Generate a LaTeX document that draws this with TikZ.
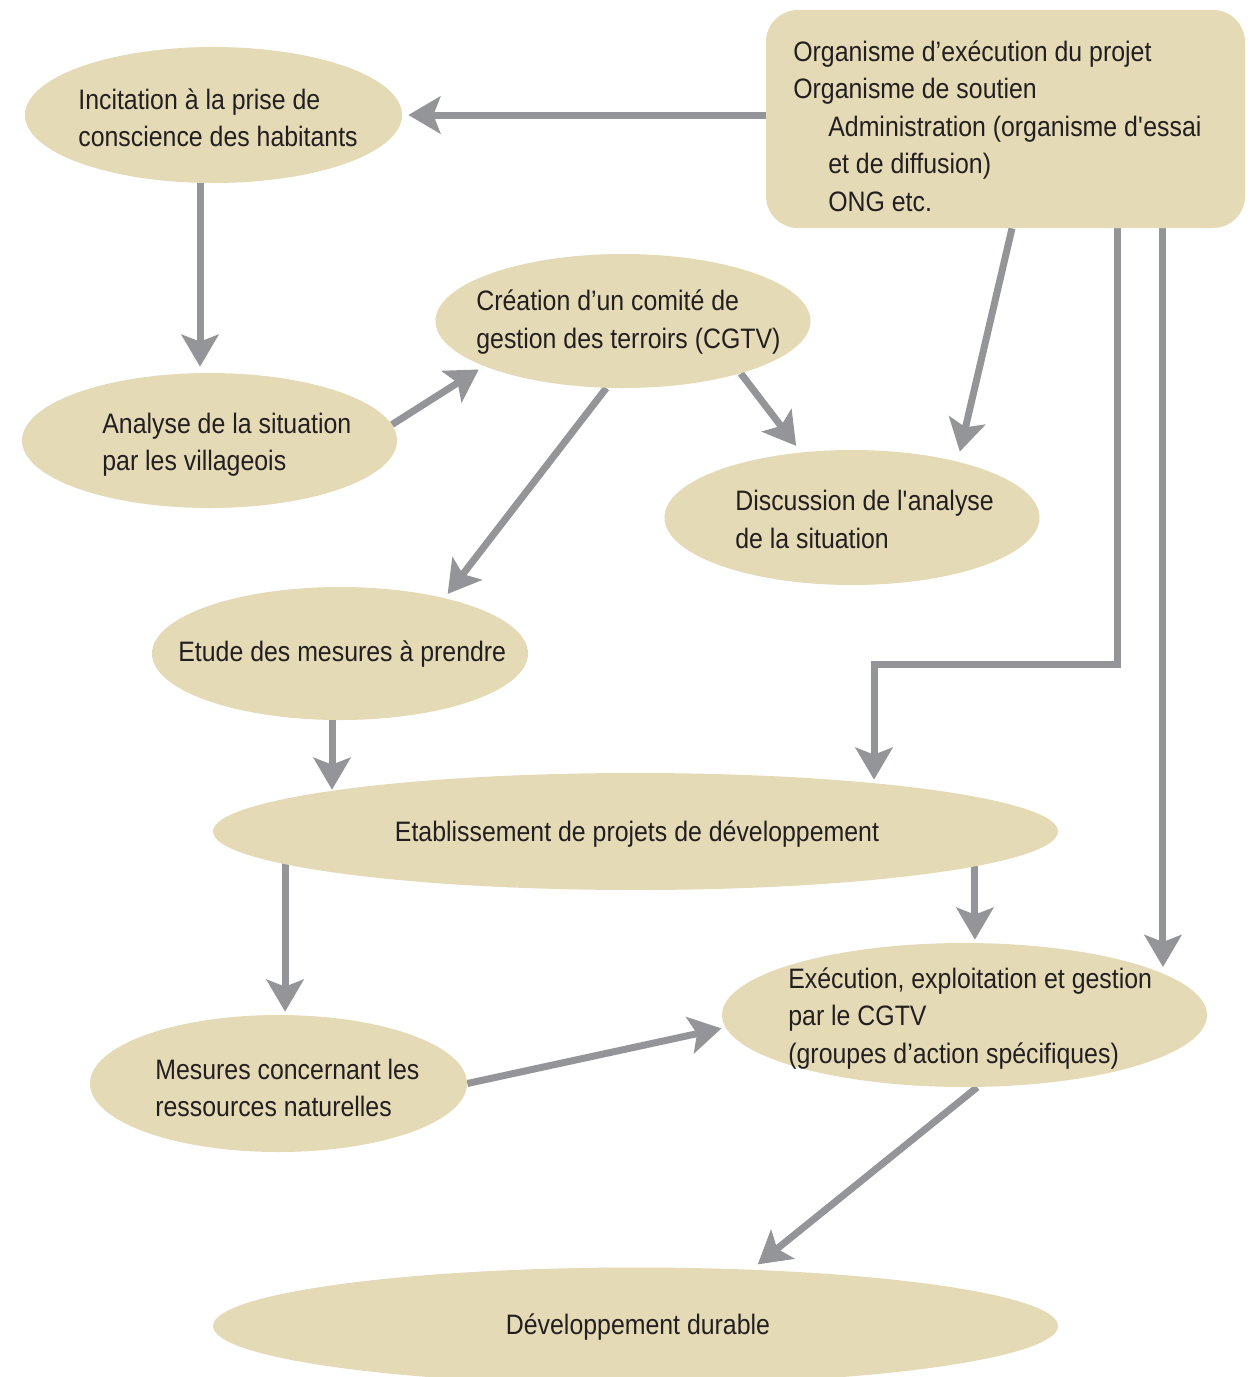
\documentclass[tikz,border=0pt]{standalone}
\usepackage{fontspec}
\setmainfont{Liberation Sans}[FakeStretch=0.885]
\usetikzlibrary{shapes.geometric,arrows.meta,backgrounds}
\definecolor{sand}{HTML}{E4DAB6}
\definecolor{arrowgrey}{HTML}{939598}
\definecolor{ink}{HTML}{231F20}
\tikzset{blob/.style={ellipse,fill=sand,inner sep=0pt},
         sz/.style 2 args={minimum width=#1*0.02cm,minimum height=#2*0.02cm},
         txt/.style={anchor=west,align=left,inner sep=0pt,text=ink,
            font=\fontsize{16}{21.3}\selectfont},
         link/.style={draw=arrowgrey,line width=0.14cm,shorten >=#1,
            -{Stealth[length=0.64cm,width=0.74cm,inset=0.14cm]}},
         link/.default=0.12cm}

\begin{document}
\begin{tikzpicture}[x=0.02cm,y=-0.02cm]
\useasboundingbox (0,0) rectangle (1255,1377);

\node[fill=sand,rounded corners=0.64cm,sz={479}{218}] (org) at (1005.5,119) {};
\node[txt] (org-txt) at (793,126) {Organisme d’exécution du projet\\
    Organisme de soutien\\
    \hspace*{0.7cm}Administration (organisme d\textquotesingle essai\\
    \hspace*{0.7cm}et de diffusion)\\
    \hspace*{0.7cm}ONG etc.};

\node[blob,sz={377}{136}] (inc) at (213.5,115) {};
\node[txt] (inc-txt) at (78,117.5) {Incitation à la prise de\\conscience des habitants};

\node[blob,sz={375}{135}] (analyse) at (209.5,440.5) {};
\node[txt] (analyse-txt) at (102,444.5) {Analyse de la situation\\par les villageois};

\node[blob,sz={375}{134}] (creation) at (623,321) {};
\node[txt] (creation-txt) at (476,322) {Création d’un comité de\\gestion des terroirs (CGTV)};

\node[blob,sz={375}{135}] (discussion) at (852,517.5) {};
\node[txt] (discussion-txt) at (735,519.5) {Discussion de l\textquotesingle analyse\\de la situation};

\node[blob,sz={376}{133}] (etude) at (340,653.5) {};
\node[txt] (etude-txt) at (178,654) {Etude des mesures à prendre};

\node[blob,sz={845}{117}] (etab) at (635.5,831.5) {};
\node[txt,anchor=center] (etab-txt) at (637,834) {Etablissement de projets de développement};

\node[blob,sz={485}{144}] (exec) at (964.5,1015) {};
\node[txt] (exec-txt) at (788,1018.5) {Exécution, exploitation et gestion\\par le CGTV\\(groupes d’action spécifiques)};

\node[blob,sz={377}{137}] (mesures) at (278.5,1083.5) {};
\node[txt] (mesures-txt) at (155,1088) {Mesures concernant les\\ressources naturelles};

\node[blob,sz={845}{117}] (dev) at (635.5,1326) {};
\node[txt,anchor=center] (dev-txt) at (638,1327) {Développement durable};

\coordinate (bend) at (874,664);

\begin{pgfonlayer}{background}
\draw[link] (org.west |- inc.east) -- (inc.east);
\draw[link=0.12cm] ([xshift=-0.27cm]inc.south) -- ([xshift=-0.27cm]inc.south |- analyse.north);
\draw[link] (analyse.5) -- (creation.198);
\draw[link=0.16cm] (creation.-24) -- (discussion.128);
\draw[link=0.2cm] ([xshift=0.13cm]org.south) -- (discussion.28);
\draw[link=0.1cm] (creation.256) -- (etude.28);
\draw[link=0.08cm] ([xshift=2.25cm]org.south) |- (bend) -- (bend |- etab.11);
\draw[link] ([xshift=3.15cm]org.south) -- ([xshift=3.15cm]org.south |- exec.12);
\draw[link=0pt] ([xshift=-0.16cm]etude.south) -- ([xshift=-0.16cm]etude.south |- etab.172);
\draw[link=0.06cm] ([xshift=-7.01cm]etab.center) -- ([xshift=-7.01cm]etab.center |- mesures.north);
\draw[link=0.06cm] ([xshift=6.79cm]etab.center) -- ([xshift=6.79cm]etab.center |- exec.north);
\draw[link=0.08cm] (mesures.east) -- (exec.183);
\draw[link=0.16cm] (exec.280) -- (dev.26);
\end{pgfonlayer}
\end{tikzpicture}
\end{document}
